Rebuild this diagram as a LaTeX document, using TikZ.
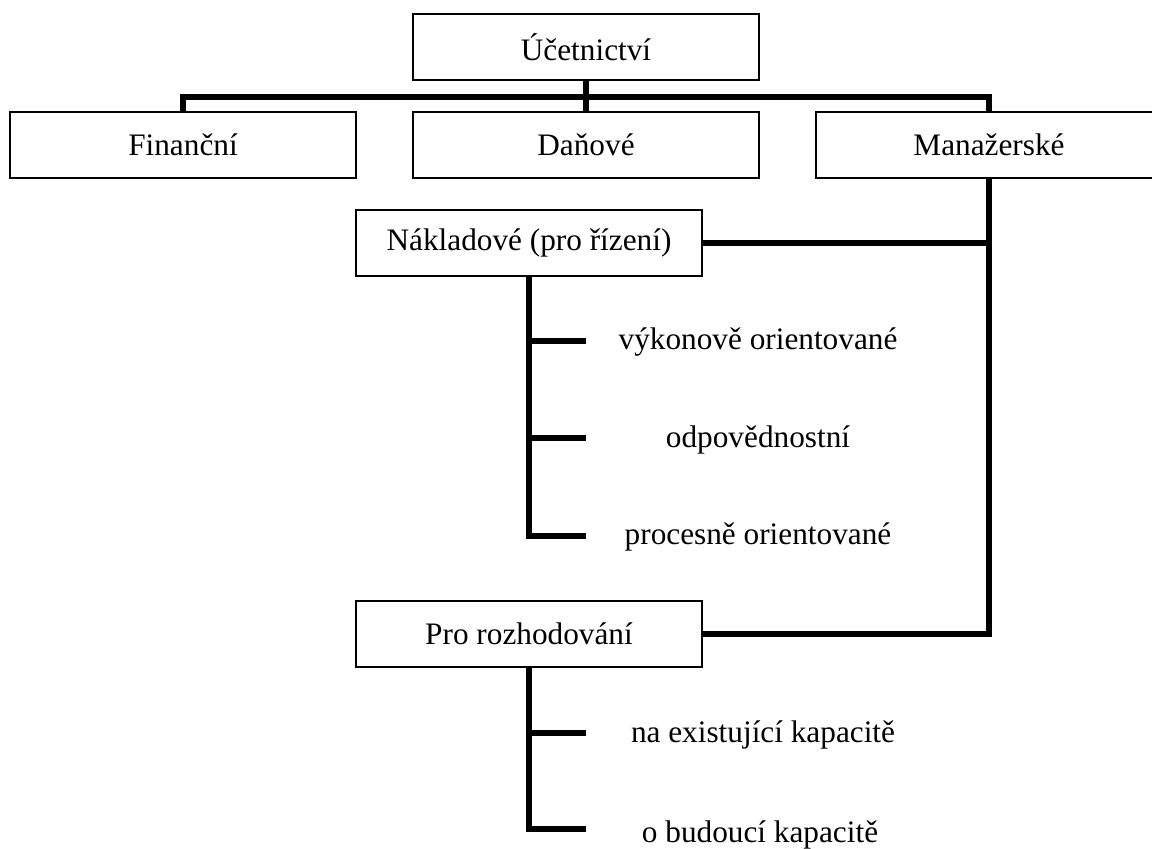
\documentclass[tikz,border=0pt]{standalone}
\usepackage{fontspec}
\setmainfont{Liberation Serif}
\usetikzlibrary{positioning}

\tikzset{
  box/.style={draw, line width=1.1pt, minimum width=6.92cm, minimum height=1.31cm, inner sep=0pt, fill=white, font=\fontsize{17.8}{20}\selectfont},
  leaf/.style={inner sep=0pt, font=\fontsize{17.8}{20}\selectfont},
  conn/.style={line width=3.4pt},
}

\begin{document}
\begin{tikzpicture}[x=0.02cm, y=-0.02cm]
	
	\useasboundingbox (0,0) rectangle (1152,848);
	
	% boxes
	\node[box] (ucet) at (586,47) {Účetnictví};
	\node[box] (fin) at (183,145) {Finanční};
	\node[box] (dan) at (586,145) {Daňové};
	\node[box] (man) at (989,145) {Manažerské};
	\node[box] (nakl) at (529,243) {Nákladové (pro řízení)};
	\node[box] (rozh) at (529,634) {Pro rozhodování};
	
	% leaves
	\node[leaf] (vyk) at (758,342) {výkonově orientované};
	\node[leaf] (odp) at (758,440) {odpovědnostní};
	\node[leaf] (proc) at (758,537) {procesně orientované};
	\node[leaf] (exist) at (763,735) {na existující kapacitě};
	\node[leaf] (bud) at (760,835) {o budoucí kapacitě};
	
	% tick ends
	\coordinate (k1) at (586,341);
	\coordinate (k2) at (586,438);
	\coordinate (k3) at (586,536);
	\coordinate (k4) at (586,733);
	\coordinate (k5) at (586,829);
	\coordinate (bus) at (586,97);
	
	% connectors
	\draw[conn] (fin.north) |- (bus) -| (man.north);
	\draw[conn] (ucet.south) -- (dan.north);
	\draw[conn] (man.south) |- (rozh.east);
	\draw[conn] (nakl.east) -- (nakl.east -| man.south);
	
	\draw[conn] (nakl.south) |- (k3);
	\draw[conn] (nakl.south |- k1) -- (k1);
	\draw[conn] (nakl.south |- k2) -- (k2);
	
	\draw[conn] (rozh.south) |- (k5);
	\draw[conn] (rozh.south |- k4) -- (k4);
	
\end{tikzpicture}
\end{document}
